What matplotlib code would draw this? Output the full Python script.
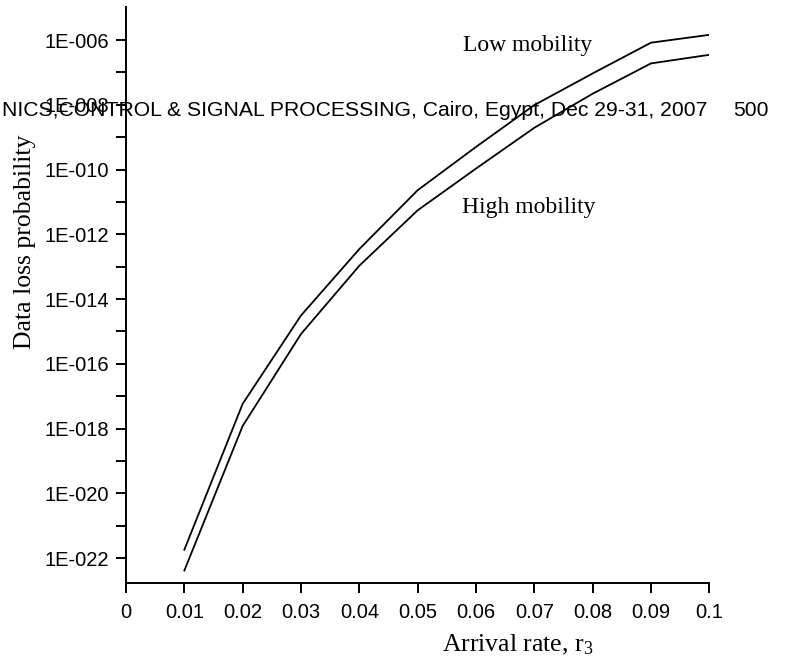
import math
import matplotlib
matplotlib.use("Agg")
import matplotlib.pyplot as plt
from matplotlib.ticker import FixedLocator, FuncFormatter, NullFormatter

plt.rcParams['font.family'] = ['Liberation Sans', 'DejaVu Sans']
plt.rcParams['mathtext.fontset'] = 'custom'
plt.rcParams['mathtext.rm'] = 'Liberation Serif'
plt.rcParams['mathtext.it'] = 'Liberation Serif:italic'

# Data
arrival_rate = [0.01, 0.02, 0.03, 0.04, 0.05, 0.06, 0.07, 0.08, 0.09, 0.1]
low_mobility = [1.8e-22, 5.8e-18, 3.1e-15, 3.5e-13, 2.3e-11, 5.0e-10, 9.8e-9, 9.3e-8, 8.3e-7, 1.45e-6]
high_mobility = [4.1e-23, 1.2e-18, 8.3e-16, 1.07e-13, 5.5e-12, 1.07e-10, 1.95e-9, 2.2e-8, 1.9e-7, 3.5e-7]
x_ticks = [0, 0.01, 0.02, 0.03, 0.04, 0.05, 0.06, 0.07, 0.08, 0.09, 0.1]
x_tick_labels = ['0', '0.01', '0.02', '0.03', '0.04', '0.05', '0.06', '0.07', '0.08', '0.09', '0.1']
y_major_exps = [-22, -20, -18, -16, -14, -12, -10, -8, -6]
y_minor_exps = [-21, -19, -17, -15, -13, -11, -9, -7]

W, H = 787, 659
fig = plt.figure(figsize=(W / 100, H / 100), dpi=100)
ax = fig.add_axes([126 / W, 1 - 583 / H, (709.3 - 126) / W, (583 - 7) / H])

ax.plot(arrival_rate, low_mobility, color='black', lw=1.3)
ax.plot(arrival_rate, high_mobility, color='black', lw=1.3)

ax.set_yscale('log')
ax.set_xlim(0, 0.1)
ax.set_ylim(1.69e-23, 1.05e-5)

ax.set_xticks(x_ticks)
ax.set_xticklabels(x_tick_labels)
ax.yaxis.set_major_locator(FixedLocator([10.0 ** e for e in y_major_exps]))
ax.yaxis.set_minor_locator(FixedLocator([10.0 ** e for e in y_minor_exps]))
ax.yaxis.set_major_formatter(FuncFormatter(lambda v, p: "1E-%03d" % round(-math.log10(v))))
ax.yaxis.set_minor_formatter(NullFormatter())

for s in ['top', 'right']:
    ax.spines[s].set_visible(False)
for s in ['left', 'bottom']:
    ax.spines[s].set_linewidth(1.4)

ax.tick_params(axis='both', which='both', direction='out', length=7.2, width=1.4, colors='black')
ax.tick_params(axis='y', which='major', labelsize=14.5, pad=5)
ax.tick_params(axis='x', which='major', labelsize=14.5, pad=7)

ax.text(0.0578, 7.0e-7, 'Low mobility', family='Liberation Serif', fontsize=17, va='center', ha='left')
ax.text(0.0576, 6.9e-12, 'High mobility', family='Liberation Serif', fontsize=17, va='center', ha='left')

fig.text(518 / W, 1 - 645 / H, r'Arrival rate, r$_{\mathrm{3}}$', family='Liberation Serif', fontsize=18.5,
         ha='center', va='center')
fig.text(25 / W, 1 - 242 / H, 'Data loss probability', family='Liberation Serif', fontsize=18.5,
         ha='center', va='center', rotation=90)

fig.text(708 / W, 1 - 110 / H, 'NICS,CONTROL & SIGNAL PROCESSING, Cairo, Egypt, Dec 29-31, 2007',
         fontsize=15.2, ha='right', va='center')
fig.text(769 / W, 1 - 110 / H, '500', fontsize=15.2, ha='right', va='center')

fig.savefig('out.png', dpi=100)
